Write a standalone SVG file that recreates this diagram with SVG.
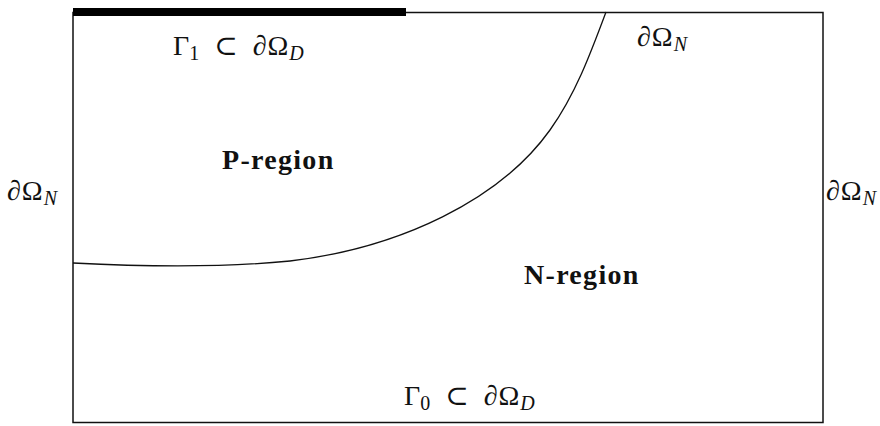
<svg xmlns="http://www.w3.org/2000/svg" width="880" height="426" viewBox="0 0 880 426">
<style>
.t{font-family:"Liberation Serif","DejaVu Serif",serif;font-size:28px;fill:#111}
.b{font-weight:bold;letter-spacing:1.3px}
.s{font-size:20px;font-style:italic}
.n{font-size:20px}
.w{letter-spacing:1px}
</style>
<rect width="880" height="426" fill="#fff"/>
<g id="domain">
<rect x="73" y="12.5" width="750" height="410" fill="none" stroke="#111" stroke-width="1.5"/>
</g>
<g id="gamma1-bar">
<line x1="73" y1="12" x2="406" y2="12" stroke="#000" stroke-width="8"/>
</g>
<g id="connectors">
<path d="M73,263 C150,267 230,267 290,261 C400,248 500,200 550,130 C575,95 590,55 606,12" fill="none" stroke="#111" stroke-width="1.3"/>
</g>
<g id="label-gamma1"><text class="t" x="173" y="55">Γ<tspan class="n" dy="5">1</tspan><tspan dy="-5" dx="15">⊂</tspan><tspan class="w" dx="15">∂Ω</tspan><tspan class="s" dy="5">D</tspan></text></g>
<g id="label-top-right"><text class="t" x="637" y="46"><tspan class="w">∂Ω</tspan><tspan class="s" dy="5">N</tspan></text></g>
<g id="label-left"><text class="t" x="7" y="200"><tspan class="w">∂Ω</tspan><tspan class="s" dy="5">N</tspan></text></g>
<g id="label-right"><text class="t" x="826" y="200"><tspan class="w">∂Ω</tspan><tspan class="s" dy="5">N</tspan></text></g>
<g id="p-region"><text class="t b" x="222" y="169">P-region</text></g>
<g id="n-region"><text class="t b" x="524" y="284">N-region</text></g>
<g id="label-gamma0"><text class="t" x="404" y="405">Γ<tspan class="n" dy="5">0</tspan><tspan dy="-5" dx="15">⊂</tspan><tspan class="w" dx="15">∂Ω</tspan><tspan class="s" dy="5">D</tspan></text></g>
</svg>
